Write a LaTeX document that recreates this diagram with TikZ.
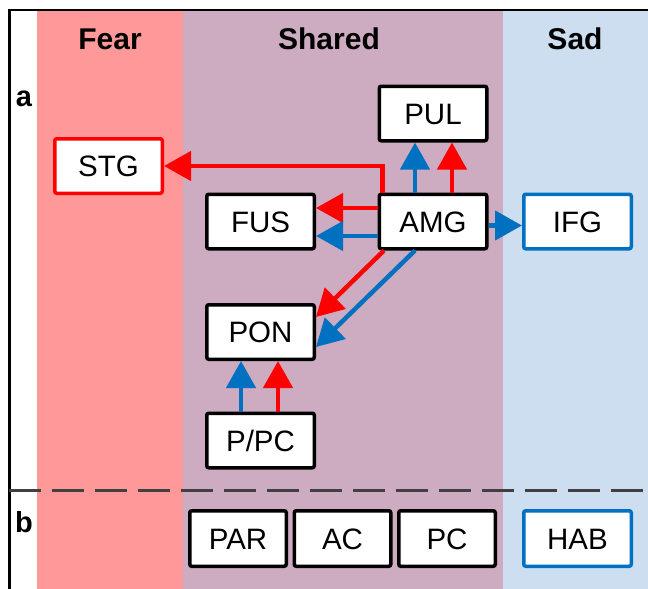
\documentclass[tikz,border=0pt]{standalone}
\usepackage{fontspec}
\setmainfont{Liberation Sans}
\usetikzlibrary{arrows.meta,calc}
\definecolor{fearbg}{RGB}{255,153,153}
\definecolor{sharedbg}{RGB}{205,171,192}
\definecolor{sadbg}{RGB}{204,222,240}
\definecolor{fearred}{RGB}{255,0,0}
\definecolor{sadblue}{RGB}{0,112,192}
\definecolor{sepgray}{RGB}{64,64,64}
\begin{document}
\begin{tikzpicture}[x=1pt,y=-1pt,
  roi/.style={draw=black, fill=white, line width=3.5pt, rounded corners=2pt,
    minimum width=107.5pt, minimum height=54.5pt, inner sep=0pt,
    text height=21pt, text depth=0pt, font=\fontsize{29.5}{31}\selectfont},
  roifear/.style={roi, draw=fearred},
  roisad/.style={roi, draw=sadblue},
  roiextra/.style={roi, minimum width=96.5pt, minimum height=55.5pt},
  link/.style={line width=4.5pt, -{Triangle[length=27pt,width=29pt]}},
  fearlink/.style={link, draw=fearred},
  sadlink/.style={link, draw=sadblue},
  heading/.style={anchor=base, font=\fontsize{30}{32}\selectfont\bfseries},
  panel/.style={anchor=base, font=\fontsize{29}{30}\selectfont\bfseries}]
\useasboundingbox (0,0) rectangle (648,589);

% condition bands
\fill[fearbg]   (37,9)  rectangle (183,589);
\fill[sharedbg] (183,9) rectangle (503,589);
\fill[sadbg]    (503,9) rectangle (648,589);

% frame and panel separator
\draw[black, line width=2.5pt] (9.5,589) -- (9.5,10) -- (648,10);
\draw[sepgray, line width=3.5pt, dash pattern=on 32pt off 11pt] (9,490.5) -- (648,490.5);

% headings
\node[heading] (hfear)   at (110,49) {Fear};
\node[heading] (hshared) at (329,49) {Shared};
\node[heading] (hsad)    at (575,49) {Sad};
\node[panel] (pa) at (24,106) {a};
\node[panel] (pb) at (24,532) {b};

% panel a regions
\node[roi]     (PUL) at (433,113.5)   {PUL};
\node[roifear] (STG) at (108.5,166)   {STG};
\node[roi]     (FUS) at (260.5,221.5) {FUS};
\node[roi]     (AMG) at (433,221.5)   {AMG};
\node[roisad]  (IFG) at (577.5,221.5) {IFG};
\node[roi]     (PON) at (260.5,332)   {PON};
\node[roi]     (PPC) at (260.5,440.5) {P/PC};

% panel b regions
\node[roiextra] (PAR) at (238,538.5)   {PAR};
\node[roiextra] (AC)  at (342.5,538.5) {AC};
\node[roiextra] (PC)  at (447,538.5)   {PC};
\node[roisad, minimum height=55.5pt] (HAB) at (577.5,538.5) {HAB};

% anchor points on AMG, PON and P/PC
\coordinate (amgStg)  at ($(AMG.north west)+(5,0)$);
\coordinate (amgPulB) at ($(AMG.north)+(-18,0)$);
\coordinate (amgPulR) at ($(AMG.north)+(19,0)$);
\coordinate (amgFusR) at ($(AMG.west)+(0,-13.5)$);
\coordinate (amgFusB) at ($(AMG.west)+(0,14.5)$);
\coordinate (amgIfg)  at ($(AMG.east)+(0,4)$);
\coordinate (amgPonR) at ($(AMG.south west)+(6.5,0)$);
\coordinate (amgPonB) at ($(AMG.south)+(-18,0)$);
\coordinate (ponR)    at ($(PON.east)+(0,-15)$);
\coordinate (ponB)    at ($(PON.east)+(0,15)$);
\coordinate (ppcB)    at ($(PPC.north)+(-19.5,0)$);
\coordinate (ppcR)    at ($(PPC.north)+(17.5,0)$);

% connections
\draw[fearlink] (amgStg) |- (STG.east);
\draw[sadlink]  (amgPulB) -- (amgPulB |- PUL.south);
\draw[fearlink] (amgPulR) -- (amgPulR |- PUL.south);
\draw[fearlink] (amgFusR) -- (amgFusR -| FUS.east);
\draw[sadlink]  (amgFusB) -- (amgFusB -| FUS.east);
\draw[sadlink]  (amgIfg) -- (amgIfg -| IFG.west);
\draw[fearlink] (amgPonR) -- (ponR);
\draw[sadlink]  (amgPonB) -- (ponB);
\draw[sadlink]  (ppcB) -- (ppcB |- PON.south);
\draw[fearlink] (ppcR) -- (ppcR |- PON.south);
\end{tikzpicture}
\end{document}
